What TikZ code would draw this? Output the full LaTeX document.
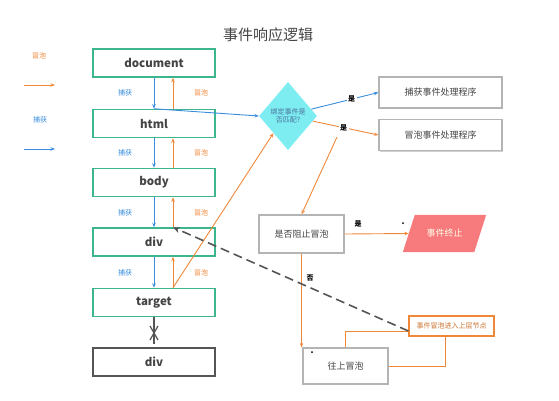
\documentclass[tikz,border=0pt]{standalone}
\usepackage{fontspec}
\setmainfont{Noto Sans CJK SC}
\usetikzlibrary{shapes.geometric,arrows.meta,calc,shadows}
\definecolor{gboxc}{HTML}{3DB58E}
\definecolor{bluec}{HTML}{3A8DDE}
\definecolor{orangec}{HTML}{F0883A}
\definecolor{grayb}{HTML}{B4B4B4}
\definecolor{textc}{HTML}{444444}
\definecolor{diac}{HTML}{7DEDF2}
\definecolor{diatext}{HTML}{4A6F9A}
\definecolor{stopc}{HTML}{F77B7C}
\definecolor{dashc}{HTML}{555555}
\tikzset{
  gbox/.style={draw=gboxc, line width=1.5pt, minimum width=122pt, minimum height=28pt, inner sep=0pt, font=\fontsize{11.5}{13}\selectfont\bfseries, text=textc},
  dbox/.style={draw=dashc, line width=1.5pt, minimum width=122pt, minimum height=28pt, inner sep=0pt, font=\fontsize{11.5}{13}\selectfont\bfseries, text=textc},
  softshadow/.style={drop shadow={opacity=0.18, shadow xshift=1.2pt, shadow yshift=-1.2pt, fill=black}},
  rbox/.style={draw=grayb, line width=1.2pt, fill=white, softshadow, minimum width=123pt, minimum height=31pt, inner sep=0pt, font=\fontsize{9}{11}\selectfont, text=textc},
  qbox/.style={draw=grayb, line width=1.2pt, fill=white, softshadow, minimum width=85pt, inner sep=0pt, font=\fontsize{9}{11}\selectfont, text=textc},
  barr/.style={draw=bluec, line width=0.9pt, -{Stealth[length=4.5pt,width=3.5pt]}},
  oarr/.style={draw=orangec, line width=0.9pt, -{Stealth[length=4.5pt,width=3.5pt]}},
  blab/.style={font=\fontsize{7}{8}\selectfont, text=bluec},
  olab/.style={font=\fontsize{7}{8}\selectfont, text=orangec},
  ylab/.style={font=\fontsize{7}{8}\selectfont\bfseries, text=black, fill=white, inner sep=1.5pt},
}
\begin{document}
\begin{tikzpicture}[x=1pt,y=-1pt]
\useasboundingbox (0,0) rectangle (559,400);

% title
\node[font=\fontsize{15}{17}\selectfont, text=textc] (title) at (268,35) {事件响应逻辑};

% legend
\node[olab] (lg1) at (39,56) {冒泡};
\coordinate (lo1) at (24,85);
\coordinate (lo2) at (55,85);
\draw[oarr] (lo1) -- (lo2);
\node[blab] (lg2) at (40,120) {捕获};
\coordinate (lb1) at (24,149);
\coordinate (lb2) at (55,149);
\draw[barr] (lb1) -- (lb2);

% left column
\node[gbox] (doc) at (154,63) {document};
\node[gbox] (html) at (154,123.5) {html};
\node[gbox] (body) at (154,182.5) {body};
\node[gbox] (div1) at (154,242) {div};
\node[gbox] (target) at (154,302.5) {target};
\node[dbox] (div2) at (154,362) {div};

% capture / bubble arrows
\foreach \a/\b/\y in {doc/html/93, html/body/153, body/div1/213, div1/target/273}{
  \draw[barr] (\a.south) -- (\b.north);
  \draw[oarr] ([xshift=19pt]\b.north) -- ([xshift=19pt]\a.south);
  \node[blab] at (125,\y) {捕获};
  \node[olab] at (201,\y) {冒泡};
}

% blocked propagation
\draw[dashc, line width=1.2pt] (target.south) -- ([yshift=3pt]div2.north);
\draw[dashc, line width=1.2pt] (150,326) -- (158,340) (158,326) -- (150,340);

% diamond
\node[diamond, fill=diac, minimum width=58pt, minimum height=68pt, inner sep=0pt,
      font=\fontsize{7}{8.5}\selectfont, text=diatext, align=center] (dia) at (288,116) {绑定事件是\\否匹配?};

\draw[barr] (html.north) -- (dia.west);
\draw[oarr] ([xshift=19pt]target.north) -- (dia.south west);

% handlers
\node[rbox] (cap) at (440.5,92.5) {捕获事件处理程序};
\node[rbox] (bub) at (440.5,135) {冒泡事件处理程序};

\draw[barr] ($(dia.east)!0.2!(dia.north)$) -- node[ylab, pos=0.6] (y1) {是} (cap.west);
\draw[oarr] ($(dia.east)!0.15!(dia.south)$) -- node[ylab, pos=0.47] (y2) {是} (bub.west);

% stop bubbling?
\node[qbox, minimum height=38pt] (stopq) at (301.5,234) {是否阻止冒泡};
\coordinate (branch) at (337,137);
\draw[oarr] (branch) -- (stopq.north);

% event end (parallelogram)
\node[minimum width=71pt, minimum height=37pt, inner sep=0pt] (stop) at (444.5,233.5) {};
\fill[stopc] ([xshift=-6pt]stop.south west) -- ([xshift=6pt]stop.north west) -- ([xshift=6pt]stop.north east) -- ([xshift=-6pt]stop.south east) -- cycle;
\node[font=\fontsize{9}{11}\selectfont, text=white!92!yellow] (stoptxt) at (stop) {事件终止};
\draw[oarr] (stopq.east) -- (stop.west);
\node[ylab, fill=none] (y3) at (358,224) {是};
\fill[black] (403,223) circle (1pt);

% bubble up
\node[qbox, minimum height=36pt] (up) at (345.5,366) {往上冒泡};
\draw[oarr] (stopq.south) -- (up.north -| stopq.south);
\node[ylab, fill=none] (n1) at (310,278) {否};
\fill[black] (312,352) circle (1pt);

% callout
\node[draw=orangec, line width=1.2pt, fill=white, minimum width=85pt, minimum height=20pt, inner sep=0pt,
      font=\fontsize{7}{8}\selectfont, text=orangec!85!black] (call) at (451.5,326) {事件冒泡进入上层节点};
\draw[orangec, line width=1pt] (up.north) |- ([yshift=-5pt]call.west);
\draw[orangec, line width=1pt] ([xshift=-6.5pt]call.south) |- (up.east);

% dashed return
\draw[dashc, line width=1.6pt, dash pattern=on 9pt off 5pt, -{Stealth[length=7pt,width=6pt]}] ([yshift=-5pt]call.west) -- ([xshift=19pt]div1.north);
\end{tikzpicture}
\end{document}
